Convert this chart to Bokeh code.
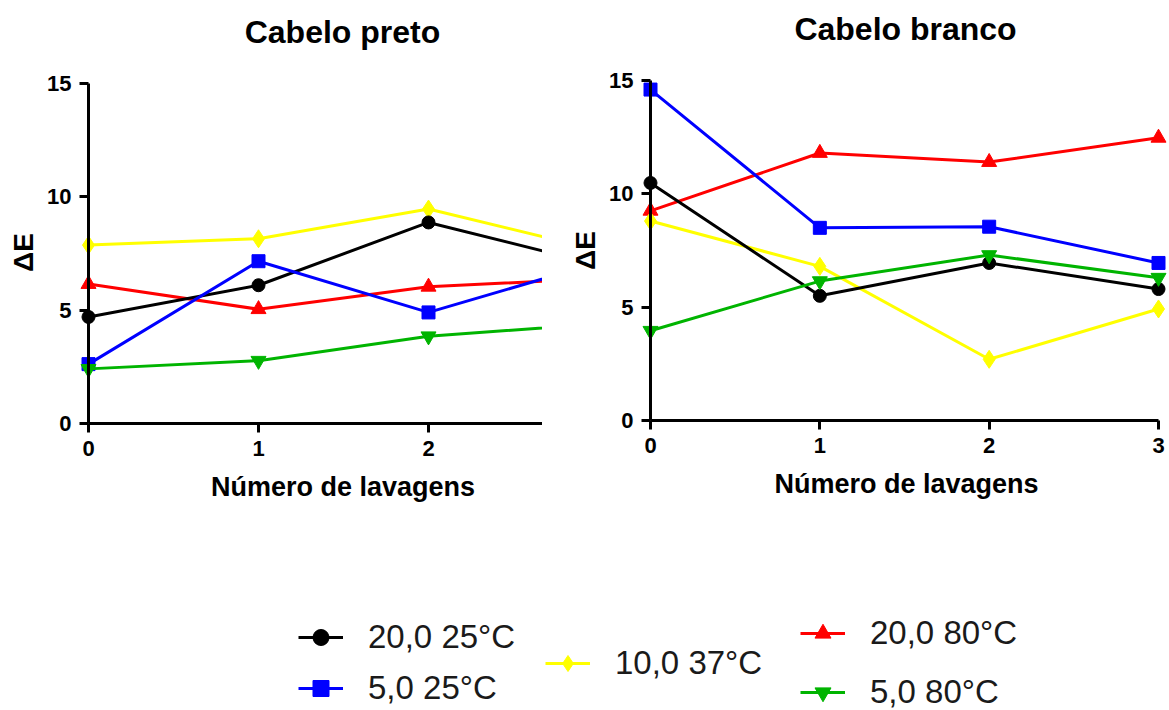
from bokeh.plotting import figure
from bokeh.models import Range1d, FixedTicker, Label, Legend, LegendItem
from bokeh.layouts import row
from bokeh.embed import file_html
from bokeh.resources import INLINE

# ---------------- data ----------------
lavagens = [0, 1, 2, 3]
y_ticks = [0, 5, 10, 15]
series_names = ["20,0 25°C", "5,0 25°C", "10,0 37°C", "20,0 80°C", "5,0 80°C"]

preto_20_25 = [4.7, 6.1, 8.87, 7.0]
preto_5_25 = [2.62, 7.16, 4.9, 7.1]
preto_10_37 = [7.87, 8.15, 9.46, 7.65]
preto_20_80 = [6.15, 5.04, 6.03, 6.4]
preto_5_80 = [2.41, 2.77, 3.85, 4.4]

branco_20_25 = [10.48, 5.5, 6.95, 5.8]
branco_5_25 = [14.6, 8.5, 8.55, 6.95]
branco_10_37 = [8.8, 6.8, 2.7, 4.92]
branco_20_80 = [9.25, 11.8, 11.4, 12.47]
branco_5_80 = [3.96, 6.15, 7.3, 6.3]

colors = ["#000000", "#0000FF", "#FFFF00", "#FF0000", "#00B400"]
markers = ["circle", "square", "diamond", "triangle", "inverted_triangle"]
marker_sizes = [13, 13, 18, 15, 15]
draw_order = [3, 2, 0, 1, 4]

FONT = "Liberation Sans"
H = 710


def make_panel(title, series, x_range, y_range, x_axis_end, width,
               title_pos, xlabel_pos, ylabel_pos):
    p = figure(width=width, height=H, min_border=0,
               x_range=Range1d(*x_range), y_range=Range1d(*y_range),
               output_backend="svg", toolbar_location=None, title=None)
    p.outline_line_color = None
    p.grid.visible = False
    p.background_fill_color = "white"
    p.border_fill_color = "white"

    rends = {}
    for i in draw_order:
        lr = p.line(lavagens, series[i], line_color=colors[i], line_width=3)
        sr = p.scatter(lavagens, series[i], marker=markers[i], size=marker_sizes[i],
                       fill_color=colors[i], line_color=colors[i])
        rends[i] = [lr, sr]

    for ax, ticks, bounds in ((p.xaxis[0], lavagens, (0, x_axis_end)),
                              (p.yaxis[0], y_ticks, (0, 15))):
        ax.fixed_location = 0
        ax.bounds = bounds
        ax.ticker = FixedTicker(ticks=ticks)
        ax.axis_line_width = 3
        ax.axis_line_color = "black"
        ax.major_tick_line_width = 3
        ax.major_tick_line_color = "black"
        ax.major_tick_out = 9
        ax.major_tick_in = 0
        ax.minor_tick_line_color = None
        ax.major_label_text_font = FONT
        ax.major_label_text_font_style = "bold"
        ax.major_label_text_font_size = "22px"
        ax.major_label_text_color = "black"
        ax.major_label_standoff = 8

    p.add_layout(Label(x=title_pos[0], y=title_pos[1], text=title,
                       text_align="center", text_baseline="middle",
                       text_font=FONT, text_font_style="bold",
                       text_font_size="32px", text_color="black"))
    p.add_layout(Label(x=xlabel_pos[0], y=xlabel_pos[1], text="Número de lavagens",
                       text_align="center", text_baseline="middle",
                       text_font=FONT, text_font_style="bold",
                       text_font_size="27px", text_color="black"))
    p.add_layout(Label(x=ylabel_pos[0], y=ylabel_pos[1], text="ΔE", angle=1.5708,
                       text_align="center", text_baseline="middle",
                       text_font=FONT, text_font_style="bold",
                       text_font_size="28px", text_color="black"))
    return p, rends


def add_legend(p, rends, idx, loc):
    leg = Legend(items=[LegendItem(label=series_names[idx], renderers=rends[idx])],
                 location=loc, padding=0, margin=0, spacing=0,
                 glyph_width=45, glyph_height=40, label_height=40,
                 label_standoff=25, label_text_font=FONT,
                 label_text_font_size="33px", label_text_color="#1a1a1a",
                 background_fill_alpha=0, border_line_alpha=0)
    p.add_layout(leg)


# left panel: page x 0..542, x=0 at 88, unit 170 px; y=0 at 423, unit 22.667 px
lx, ly = 170.0, 340.0 / 15
p1, r1 = make_panel("Cabelo preto",
                    [preto_20_25, preto_5_25, preto_10_37, preto_20_80, preto_5_80],
                    (-88 / lx, 454 / lx), ((423 - H) / ly, 423 / ly), 454 / lx, 542,
                    (1.494, 17.29), (1.497, -2.82), (-0.385, 7.54))

# right panel: page x 542..1169, x=0 at 650, unit 169.33 px; y=0 at 420
rx, ry = 508.0 / 3, 340.0 / 15
p2, r2 = make_panel("Cabelo branco",
                    [branco_20_25, branco_5_25, branco_10_37, branco_20_80, branco_5_80],
                    (-108 / rx, 519 / rx), ((420 - H) / ry, 420 / ry), 3, 627,
                    (1.506, 17.29), (1.512, -2.82), (-0.384, 7.5))

add_legend(p1, r1, 0, (298, 53))
add_legend(p1, r1, 1, (298, 2))
add_legend(p2, r2, 2, (3, 27))
add_legend(p2, r2, 3, (258, 57))
add_legend(p2, r2, 4, (258, -2))

layout = row(p1, p2, spacing=0)
open("out.html", "w").write(file_html(layout, INLINE))
